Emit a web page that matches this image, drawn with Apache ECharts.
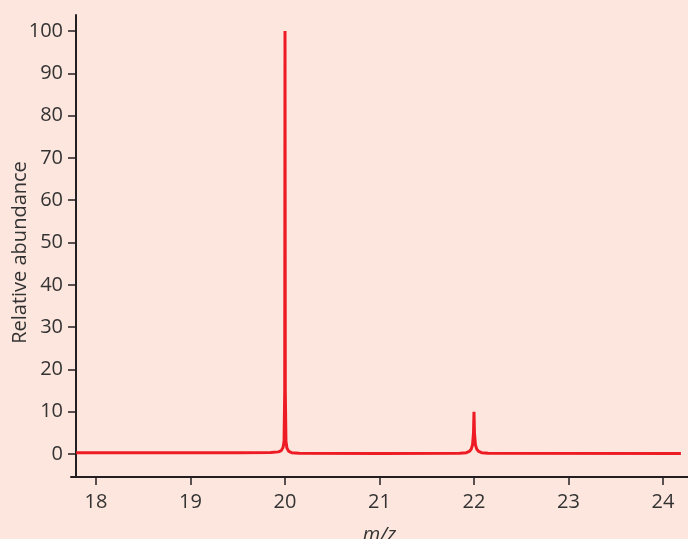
<!DOCTYPE html>
<html>
<head>
<meta charset="utf-8">
<script src="https://cdn.jsdelivr.net/npm/echarts@6/dist/echarts.min.js"></script>
<style>
html,body{margin:0;padding:0;background:#fde6dd;}
#c{width:688px;height:539px;}
</style>
</head>
<body>
<div id="c"></div>
<script>
// m/z values and relative abundance
var mz = [17.79, 19.5, 19.85, 19.93, 19.96, 19.98, 19.99, 19.997, 20.0, 20.003, 20.01, 20.02, 20.04, 20.07, 20.15, 21.0, 21.85, 21.92, 21.95, 21.97, 21.985, 21.995, 22.0, 22.005, 22.015, 22.03, 22.05, 22.08, 22.15, 24.19];
var abundance = [0.3, 0.3, 0.35, 0.5, 0.8, 1.6, 3, 15, 100, 15, 3, 1.4, 0.6, 0.3, 0.15, 0.12, 0.15, 0.3, 0.6, 1.1, 2.2, 5, 10, 5, 2.2, 1.1, 0.6, 0.3, 0.15, 0.1];
var xTicks = [18, 19, 20, 21, 22, 23, 24];
var yTicks = [0, 10, 20, 30, 40, 50, 60, 70, 80, 90, 100];

var pts = mz.map(function (x, i) { return [x, abundance[i]]; });
var font = '"Open Sans", "DejaVu Sans", sans-serif';
var axisCol = '#231f20';
var txtCol = '#333333';

var chart = echarts.init(document.getElementById('c'), null, {renderer: 'canvas'});
chart.setOption({
  backgroundColor: '#fde6dd',
  animation: false,
  grid: {left: 71, right: 0, top: 15, bottom: 62, containLabel: false, outerBoundsMode: 'none'},
  xAxis: {
    type: 'value', min: 17.735, max: 24.265,
    name: 'm/z', nameLocation: 'middle', nameGap: 48,
    nameTextStyle: {fontFamily: font, fontSize: 20, fontStyle: 'italic', color: txtCol},
    axisLine: {show: true, onZero: false, lineStyle: {color: axisCol, width: 2}},
    axisTick: {show: true, length: 8, lineStyle: {color: axisCol, width: 1.5}, customValues: xTicks},
    axisLabel: {show: true, margin: 15, fontFamily: font, fontSize: 20, color: txtCol, customValues: xTicks},
    splitLine: {show: false}
  },
  yAxis: {
    type: 'value', min: -5.44, max: 103.8, offset: -5,
    name: 'Relative abundance', nameLocation: 'middle', nameGap: 46, nameMoveOverlap: false,
    nameTextStyle: {fontFamily: font, fontSize: 20, color: txtCol, padding: [0, 13, 0, 0]},
    axisLine: {show: true, onZero: false, lineStyle: {color: axisCol, width: 2}},
    axisTick: {show: true, length: 8, lineStyle: {color: axisCol, width: 1.5}, customValues: yTicks},
    axisLabel: {show: true, margin: 13, fontFamily: font, fontSize: 20, color: txtCol, customValues: yTicks},
    splitLine: {show: false}
  },
  series: [{
    type: 'line', data: pts, showSymbol: false, symbol: 'none', smooth: false,
    lineStyle: {color: '#ed1c24', width: 3}
  }]
});
</script>
</body>
</html>
